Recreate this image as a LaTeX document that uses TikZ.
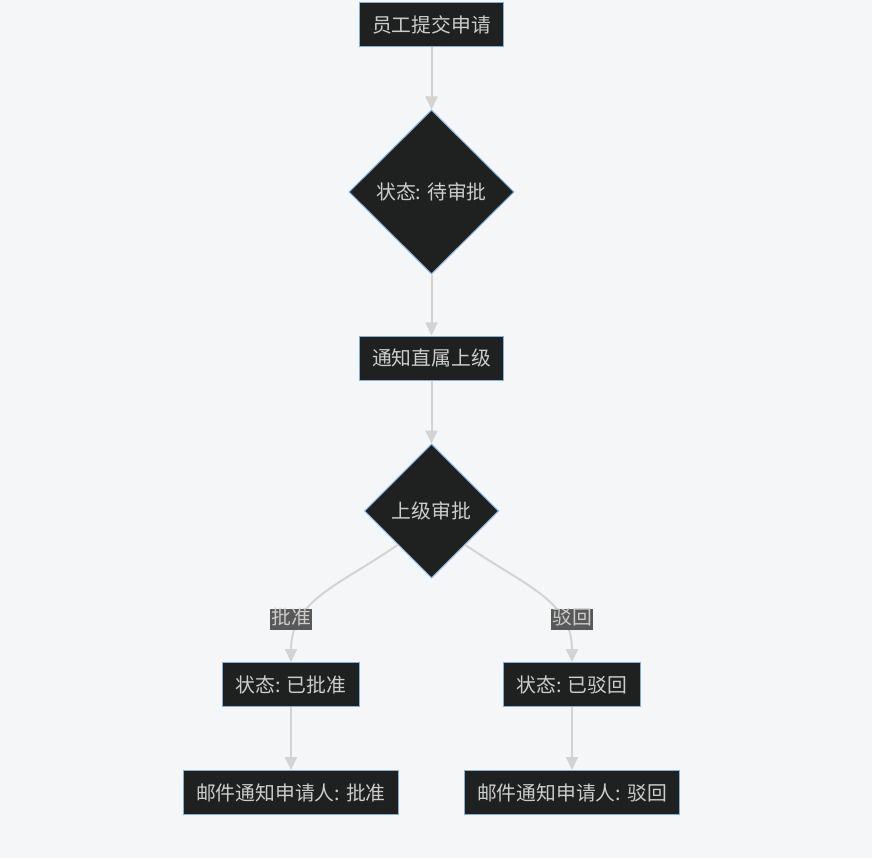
\documentclass[tikz,border=0pt]{standalone}
\usepackage{fontspec}
\setmainfont{Noto Sans CJK SC}
\usepackage{xcolor}
\usetikzlibrary{positioning,arrows.meta,shapes.geometric}

\definecolor{bgcol}{HTML}{F5F6F8}
\definecolor{nodefill}{HTML}{1F2020}
\definecolor{nodeline}{HTML}{81B1DB}
\definecolor{nodetext}{HTML}{CCCCCC}
\definecolor{flowcol}{HTML}{D3D3D3}
\definecolor{lblfill}{HTML}{585858}

\tikzset{
  box/.style={draw=nodeline, fill=nodefill, text=nodetext, line width=1pt,
    minimum height=44pt, inner xsep=13pt, inner ysep=0pt},
  choice/.style={diamond, draw=nodeline, fill=nodefill, text=nodetext,
    line width=1pt, inner sep=0pt, aspect=1},
  flow/.style={draw=flowcol, line width=2pt, -{Triangle[length=13pt,width=12pt]}},
  lbl/.style={fill=lblfill, text=nodetext, inner sep=1pt, text height=15pt, text depth=4pt}
}

\begin{document}
\begin{tikzpicture}[x=1pt, y=-1pt, font=\fontsize{19.8}{23}\selectfont]
  \fill[bgcol] (0,0) rectangle (872,858);
  \useasboundingbox (0,0) rectangle (872,858);

  \node[box] (submit) at (431.5,25) {员工提交申请};
  \node[choice, minimum width=165pt, minimum height=164pt, below=62pt of submit] (pending) {状态: 待审批};
  \node[box, below=61pt of pending] (notify) {通知直属上级};
  \node[choice, minimum width=134pt, minimum height=134pt, below=63pt of notify] (review) {上级审批};

  \node[box] (approved) at (291,684.5) {状态: 已批准};
  \node[box] (rejected) at (572,684.5) {状态: 已驳回};
  \node[box, below=63pt of approved] (mailok) {邮件通知申请人: 批准};
  \node[box, below=63pt of rejected] (mailno) {邮件通知申请人: 驳回};

  \draw[flow] (submit) -- (pending);
  \draw[flow] (pending) -- (notify);
  \draw[flow] (notify) -- (review);
  \draw[flow] (review.south west) .. controls (340,585) and (291,600) .. (approved.north);
  \draw[flow] (review.south east) .. controls (523,585) and (572,600) .. (rejected.north);
  \draw[flow] (approved) -- (mailok);
  \draw[flow] (rejected) -- (mailno);

  \node[lbl, above=32pt of approved] (yes) {批准};
  \node[lbl, above=32pt of rejected] (no) {驳回};
\end{tikzpicture}
\end{document}
